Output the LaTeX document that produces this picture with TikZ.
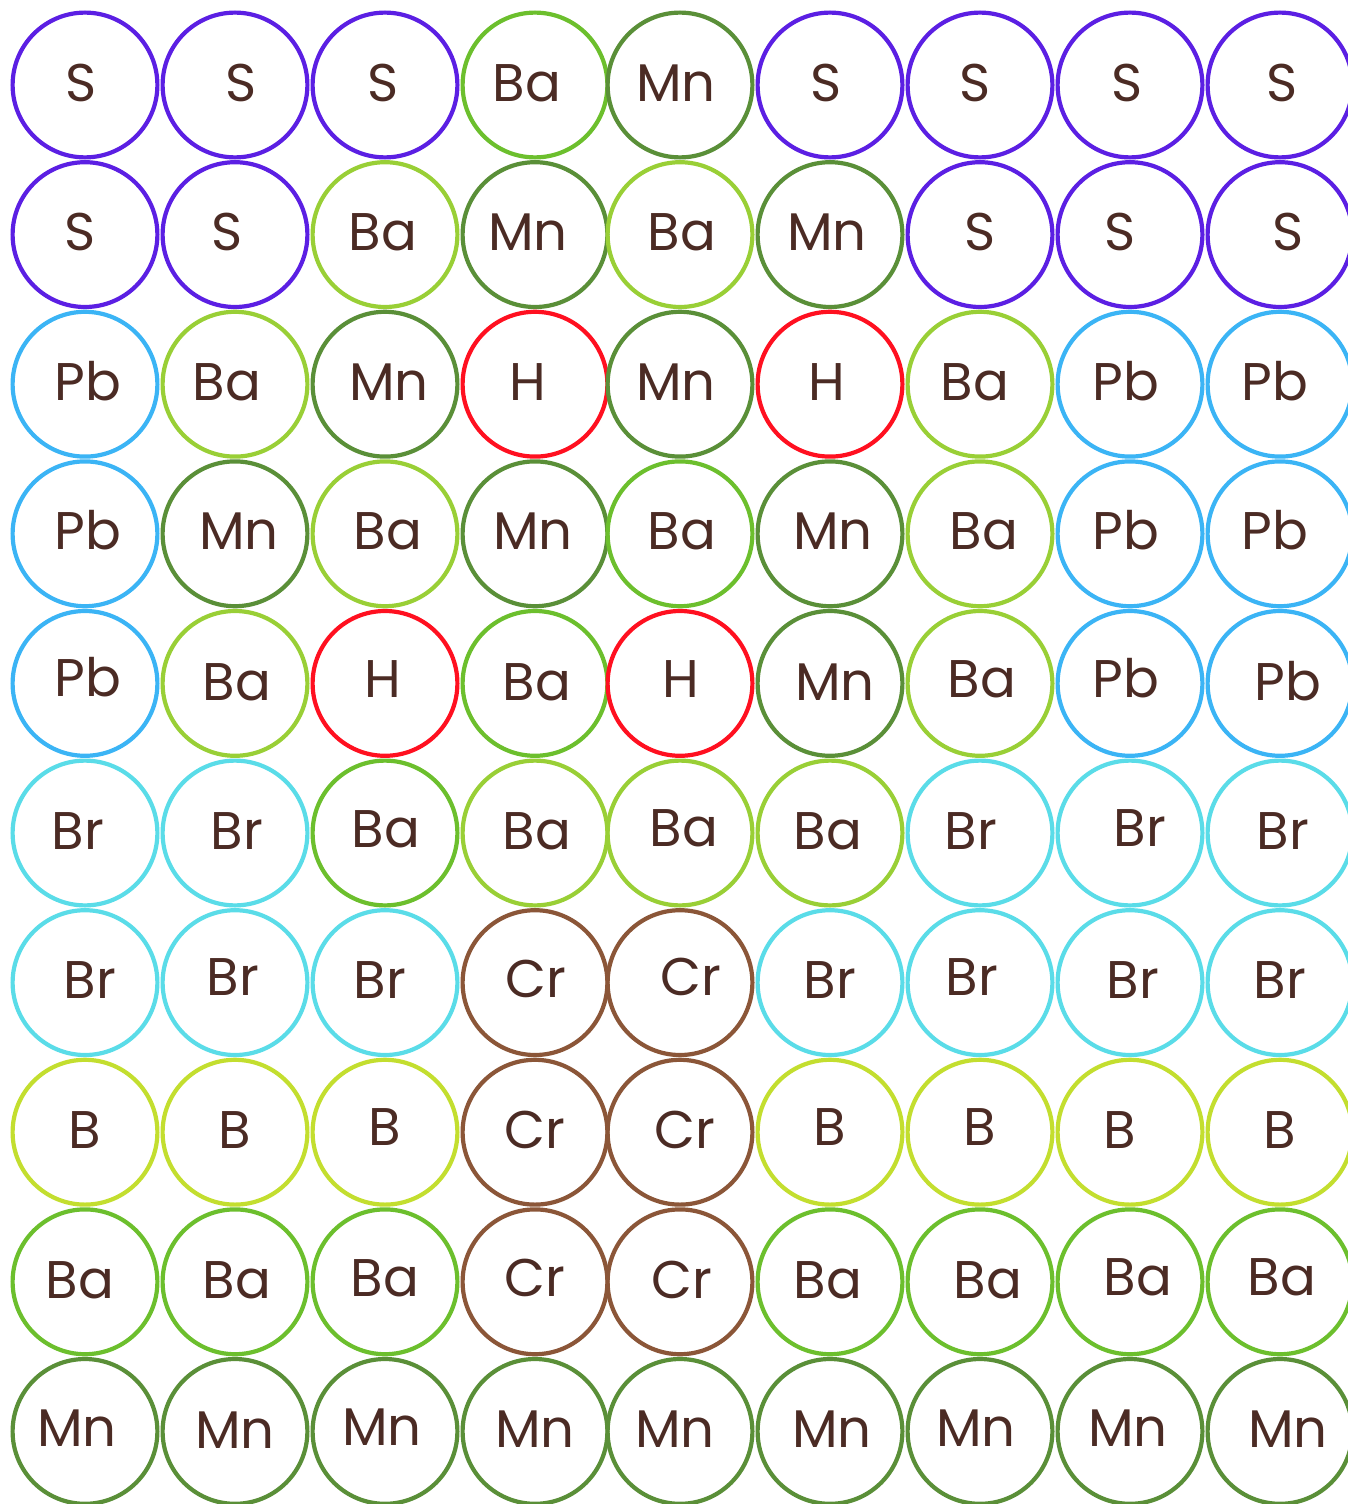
\documentclass[tikz,border=0pt]{standalone}
\usepackage{fontspec}
\setmainfont{Poppins}
\definecolor{sul}{HTML}{5B1FE3}
\definecolor{bad}{HTML}{6CBF2D}
\definecolor{bal}{HTML}{99CF36}
\definecolor{mn}{HTML}{5A8F38}
\definecolor{hy}{HTML}{FF1020}
\definecolor{pb}{HTML}{3BB4F5}
\definecolor{br}{HTML}{5ADCE8}
\definecolor{cr}{HTML}{8B5638}
\definecolor{bo}{HTML}{C3DE2F}
\definecolor{txt}{HTML}{4B2B24}

\begin{document}
\begin{tikzpicture}[
    x=0.5pt, y=-0.5pt,
    atom/.style={circle, draw, line width=2.1pt, minimum size=72.4pt, inner sep=0pt},
    sym/.style={anchor=base, inner sep=0pt, text=txt, font=\fontsize{26.5}{30}\selectfont}
]
\useasboundingbox (0,0) rectangle (1348,1504);
\foreach \cells [count=\r] in {
    {S/sul/-4/-2, S/sul/6/-2, S/sul/-2/-2, Ba/bad/-8/-2, Mn/mn/-4/-2, S/sul/-4/-2, S/sul/-5/-2, S/sul/-3/-2, S/sul/2/-2},
    {S/sul/-5/-3, S/sul/-8/-3, Ba/bal/-2/-3, Mn/mn/-7/-3, Ba/bal/2/-3, Mn/mn/-3/-3, S/sul/0/-3, S/sul/-10/-3, S/sul/8/-3},
    {Pb/pb/3/-3, Ba/bal/-8/-3, Mn/mn/4/-3, H/hy/-7/-3, Mn/mn/-4/-3, H/hy/-3/-3, Ba/bal/-5/-3, Pb/pb/-4/-3, Pb/pb/-5/-3},
    {Pb/pb/3/-3, Mn/mn/4/-3, Ba/bal/3/-3, Mn/mn/-2/-3, Ba/bad/2/-3, Mn/mn/3/-3, Ba/bal/4/-3, Pb/pb/-4/-3, Pb/pb/-5/-3},
    {Pb/pb/3/-6, Ba/bal/2/-2, H/hy/-2/-5, Ba/bad/2/-2, H/hy/1/-5, Mn/mn/5/-2, Ba/bal/2/-5, Pb/pb/-4/-5, Pb/pb/8/-2},
    {Br/br/-7/-3, Br/br/2/-3, Ba/bad/1/-5, Ba/bal/2/-3, Ba/bal/4/-6, Ba/bal/-2/-3, Br/br/-9/-3, Br/br/10/-6, Br/br/3/-3},
    {Br/br/5/-3, Br/br/-2/-6, Br/br/-5/-3, Cr/cr/1/-4, Cr/cr/11/-6, Br/br/0/-3, Br/br/-8/-6, Br/br/3/-3, Br/br/0/-3},
    {B/bo/0/-3, B/bo/0/-3, B/bo/0/-6, Cr/cr/0/-3, Cr/cr/5/-3, B/bo/0/-6, B/bo/0/-6, B/bo/-10/-3, B/bo/0/-3},
    {Ba/bad/-5/-2, Ba/bad/2/-2, Ba/bad/0/-4, Cr/cr/0/-4, Cr/cr/2/-2, Ba/bad/-2/-2, Ba/bad/8/-2, Ba/bad/8/-5, Ba/bad/2/-5},
    {Mn/mn/-8/-4, Mn/mn/0/-2, Mn/mn/-3/-5, Mn/mn/0/-3, Mn/mn/-5/-3, Mn/mn/2/-3, Mn/mn/-4/-4, Mn/mn/-2/-4, Mn/mn/8/-3}}{
    \foreach \el/\cl/\dx/\dy [count=\c] in \cells {
        \pgfmathsetmacro{\cx}{{85,235,385,535,680,830,980,1130,1280}[\c-1]}
        \pgfmathsetmacro{\cy}{85+149.6*(\r-1)}
        \node[atom, draw=\cl] (a\r-\c) at (\cx,\cy) {};
        \node[sym] (t\r-\c) at ([shift={(\dx,\dy+19)}]a\r-\c.center) {\el};
    }
}
\end{tikzpicture}
\end{document}
